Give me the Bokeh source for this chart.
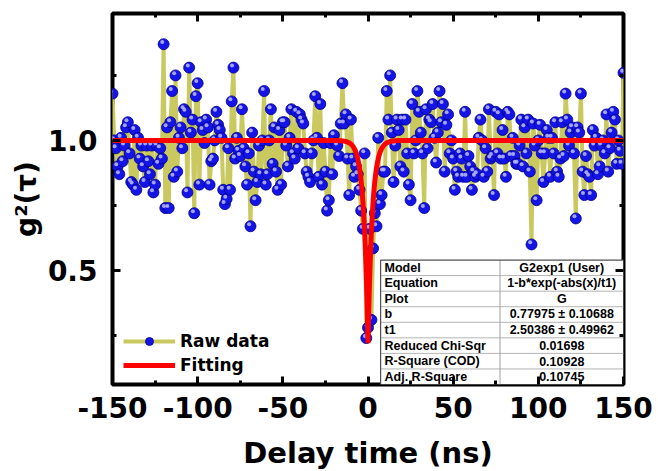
import numpy as np
from bokeh.plotting import figure
from bokeh.models import Range1d, FixedTicker, LinearAxis, Legend, LegendItem
from bokeh.core.properties import value
from bokeh.embed import file_html
from bokeh.resources import INLINE

# ---------------- data ----------------
delay_ns = list(range(-150, 151))
g2_values = [
    1.18, 1.00, 0.97, 0.90, 0.87, 1.01, 0.92, 0.98, 1.05, 1.07,
    0.95, 0.84, 0.83, 1.04, 0.81, 1.01, 0.93, 0.98, 0.90, 0.84,
    0.98, 0.92, 0.87, 0.98, 0.80, 0.83, 0.98, 0.91, 0.97, 0.93,
    1.37, 0.74, 1.05, 0.74, 1.07, 1.19, 0.86, 1.25, 0.88, 1.01,
    1.05, 0.97, 1.12, 1.11, 0.80, 1.28, 1.03, 1.08, 0.72, 1.17,
    1.22, 0.83, 1.07, 1.04, 0.99, 1.08, 1.05, 0.83, 0.92, 0.93,
    1.00, 1.11, 1.06, 1.04, 1.01, 0.81, 0.755, 0.775, 0.97, 0.81,
    1.15, 1.28, 0.93, 1.01, 0.96, 0.94, 1.12, 0.97, 0.90, 0.83,
    0.95, 0.67, 1.03, 0.88, 0.77, 0.84, 0.98, 0.87, 1.00, 1.19,
    0.83, 0.87, 1.00, 1.12, 0.91, 1.05, 0.88, 0.81, 1.04, 0.83,
    1.07, 1.07, 0.98, 0.90, 1.01, 1.12, 0.95, 0.93, 1.11, 0.97,
    1.10, 1.08, 1.065, 0.95, 0.88, 0.86, 0.84, 0.95, 1.00, 1.17,
    1.01, 0.86, 1.14, 0.83, 0.99, 0.88, 0.73, 0.77, 0.99, 0.87,
    1.02, 0.99, 0.98, 0.94, 1.065, 1.22, 1.065, 1.10, 0.93, 0.79,
    1.08, 0.93, 0.86, 0.90, 0.87, 0.81, 0.73, 0.66, 0.95, 0.24,
    0.28, 0.66, 0.31, 0.585, 0.72, 0.67, 1.01, 0.755, 0.79, 0.88,
    0.88, 1.19, 1.08, 1.25, 1.03, 0.84, 0.98, 1.08, 1.04, 0.90,
    1.08, 0.88, 1.08, 0.95, 0.83, 0.77, 1.14, 0.95, 1.00, 1.19,
    1.11, 1.03, 0.95, 0.74, 1.12, 0.97, 1.08, 1.07, 1.14, 1.01,
    0.915, 1.03, 1.19, 1.07, 1.14, 0.88, 1.06, 1.10, 0.95, 1.00,
    0.93, 0.81, 0.88, 0.86, 0.95, 0.93, 0.86, 1.11, 0.86, 0.94,
    0.90, 0.81, 0.88, 0.86, 0.87, 1.01, 1.08, 1.00, 0.86, 0.97,
    0.88, 1.12, 0.93, 0.94, 0.79, 1.11, 0.95, 1.10, 0.93, 1.04,
    0.93, 0.86, 1.11, 1.10, 0.94, 1.01, 0.94, 0.91, 0.91, 0.98,
    1.08, 0.90, 1.05, 0.95, 1.08, 0.88, 0.60, 1.065, 0.98, 0.77,
    1.00, 1.06, 0.95, 0.84, 0.95, 1.04, 1.01, 0.86, 1.01, 0.95,
    1.07, 0.88, 0.86, 0.93, 1.07, 0.94, 1.18, 1.08, 0.98, 1.03,
    1.05, 0.95, 0.70, 1.05, 1.03, 1.18, 0.88, 0.79, 0.94, 0.87,
    0.86, 0.79, 1.04, 0.98, 1.01, 0.87, 0.90, 0.98, 1.00, 0.95,
    1.10, 0.88, 0.97, 1.03, 1.11, 1.08, 0.91, 1.00, 0.96, 0.91, 1.26,
]

# fit parameters (from the fit report)
b_fit = 0.77975
t1_fit = 2.50386

x_ticks = [-150, -100, -50, 0, 50, 100, 150]
x_minor = [-125, -75, -25, 25, 75, 125]
y_ticks = [0.5, 1.0]
y_minor = [0.25, 0.75, 1.25]

table_params = ["Model", "Equation", "Plot", "b", "t1",
                "Reduced Chi-Sqr", "R-Square (COD)", "Adj. R-Square"]
table_values = ["G2exp1 (User)", "1-b*exp(-abs(x)/t1)", "G",
                "0.77975 \u00b1 0.10688", "2.50386 \u00b1 0.49962",
                "0.01698", "0.10928", "0.10745"]

# ---------------- figure ----------------
X0, X1 = -150, 150
Y0, Y1 = 0.0615, 1.488

p = figure(frame_width=511, frame_height=371,
           x_range=Range1d(X0, X1), y_range=Range1d(Y0, Y1),
           output_backend="svg", toolbar_location=None,
           min_border_left=112, min_border_right=34,
           min_border_top=13, min_border_bottom=87)
p.xgrid.visible = False
p.ygrid.visible = False
p.outline_line_color = "black"
p.outline_line_width = 4
p.background_fill_color = "white"
p.border_fill_color = "white"

TICK_FONT = "DejaVu Sans"

def style_axis(ax, ticks, minor, show_labels):
    ax.ticker = FixedTicker(ticks=ticks, minor_ticks=minor)
    ax.axis_line_color = None
    ax.major_tick_in = 8
    ax.major_tick_out = 0
    ax.major_tick_line_width = 3
    ax.major_tick_line_color = "black"
    ax.minor_tick_in = 4
    ax.minor_tick_out = 0
    ax.minor_tick_line_width = 3
    ax.minor_tick_line_color = "black"
    if show_labels:
        ax.major_label_text_font = TICK_FONT
        ax.major_label_text_font_style = "bold"
        ax.major_label_text_font_size = "28px"
        ax.major_label_text_color = "black"
    else:
        ax.major_label_text_font_size = "1px"
        ax.major_label_text_color = None
        ax.major_label_standoff = 0

xa = p.xaxis[0]
style_axis(xa, x_ticks, x_minor, True)
xa.major_label_overrides = {t: str(t) for t in x_ticks}
xa.major_label_standoff = 12
xa.axis_label = "Delay time (ns)"
xa.axis_label_text_font = TICK_FONT
xa.axis_label_text_font_style = "bold"
xa.axis_label_text_font_size = "29px"
xa.axis_label_text_color = "black"
xa.axis_label_standoff = 15

ya = p.yaxis[0]
style_axis(ya, y_ticks, y_minor, True)
ya.major_label_overrides = {0.5: "0.5", 1.0: "1.0"}
ya.major_label_standoff = 15
ya.axis_label = "g\u00b2(\u03c4)"
ya.axis_label_text_font = TICK_FONT
ya.axis_label_text_font_style = "bold"
ya.axis_label_text_font_size = "28px"
ya.axis_label_text_color = "black"
ya.axis_label_standoff = 2

top_ax = LinearAxis()
style_axis(top_ax, x_ticks, x_minor, False)
p.add_layout(top_ax, "above")
right_ax = LinearAxis()
style_axis(right_ax, y_ticks, y_minor, False)
p.add_layout(right_ax, "right")

# ---------------- data glyphs ----------------
xd = np.array(delay_ns, dtype=float)
yd = np.array(g2_values, dtype=float)

raw_line = p.line(xd, yd, line_color="#C9C95F", line_width=4)
raw_pts = p.scatter(xd, yd, size=11, fill_color="#1414E6",
                    line_color="#00008C", line_width=0.8)
p.scatter(xd - 0.8, yd + 0.008, size=4, fill_color="#B4B4FF",
          line_color=None, fill_alpha=0.9)

xf = np.linspace(X0, X1, 6001)
yf = 1 - b_fit * np.exp(-np.abs(xf) / t1_fit)
fit_line = p.line(xf, yf, line_color="#FF0000", line_width=5)

# ---------------- legend ----------------
legend = Legend(items=[LegendItem(label="Raw data", renderers=[raw_line, raw_pts]),
                       LegendItem(label="Fitting", renderers=[fit_line])],
                location=(11, 9))
legend.glyph_width = 52
legend.glyph_height = 20
legend.label_height = 20
legend.spacing = 4
legend.label_standoff = 5
legend.padding = 0
legend.margin = 0
legend.background_fill_alpha = 0
legend.border_line_color = None
legend.label_text_font = TICK_FONT
legend.label_text_font_style = "bold"
legend.label_text_font_size = "17px"
legend.label_text_color = "black"
p.add_layout(legend)

# ---------------- fit report table ----------------
t_left, t_mid, t_right = 7.4, 77.5, X1
t_top, t_bottom = 0.540, Y0
n_rows = len(table_params)
row_h = (t_top - t_bottom) / n_rows

p.quad(left=[t_left], right=[t_right], top=[t_top], bottom=[t_bottom],
       fill_color="white", line_color=None)
row_edges = [t_top - i * row_h for i in range(1, n_rows)]
p.segment(x0=[t_left] * len(row_edges), x1=[t_right] * len(row_edges),
          y0=row_edges, y1=row_edges, line_color="#B4B4B4", line_width=1)
p.segment(x0=[t_mid], x1=[t_mid], y0=[t_top], y1=[t_bottom],
          line_color="#A0A0A0", line_width=1)
p.segment(x0=[t_left, t_left], x1=[t_right, t_left],
          y0=[t_top, t_top], y1=[t_top, t_bottom],
          line_color="#505050", line_width=1.2)

row_centers = [t_top - (i + 0.5) * row_h for i in range(n_rows)]
p.text(x=[t_left + 2.3] * n_rows, y=row_centers, text=table_params,
       text_font=value("Liberation Sans"), text_font_style="bold",
       text_font_size="12.5px", text_baseline="middle", text_align="left",
       text_color="black")
p.text(x=[(t_mid + t_right) / 2] * n_rows, y=row_centers, text=table_values,
       text_font=value("Liberation Sans"), text_font_style="bold",
       text_font_size="12.5px", text_baseline="middle", text_align="center",
       text_color="black")

open("out.html", "w").write(file_html(p, INLINE))
